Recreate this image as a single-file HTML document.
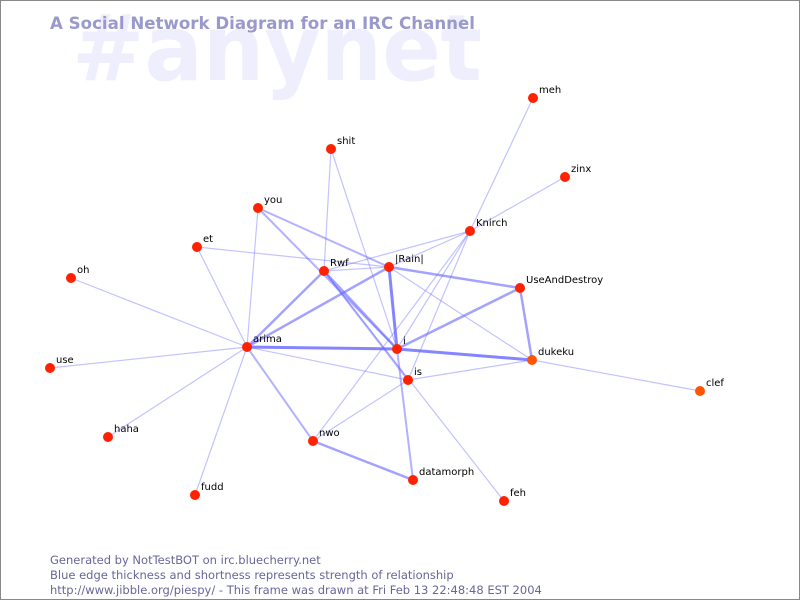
<!DOCTYPE html>
<html><head><style>
html,body{margin:0;padding:0;background:#fff}
svg{display:block}
text{font-family:"DejaVu Sans","Liberation Sans",sans-serif}
</style></head><body>
<svg width="800" height="600" viewBox="0 0 800 600" xmlns="http://www.w3.org/2000/svg">
<rect x="0.5" y="0.5" width="799" height="599" fill="#fff" stroke="#888"/>
<text x="72" y="80" font-size="92" font-weight="bold" fill="#eeeefc" textLength="410" lengthAdjust="spacingAndGlyphs">#anynet</text>
<text x="50" y="29" font-size="17" font-weight="bold" fill="#9999cc" textLength="425" lengthAdjust="spacingAndGlyphs">A Social Network Diagram for an IRC Channel</text>
<g stroke="#6666ff" stroke-linecap="round" fill="none">
<g stroke-opacity="0.4" stroke-width="1.2">
<line x1="533" y1="98" x2="470" y2="231"/>
<line x1="565" y1="177" x2="470" y2="231"/>
<line x1="331" y1="149" x2="324" y2="271"/>
<line x1="331" y1="149" x2="397" y2="349"/>
<line x1="197" y1="247" x2="389" y2="267"/>
<line x1="197" y1="247" x2="247" y2="347"/>
<line x1="258" y1="208" x2="247" y2="347"/>
<line x1="470" y1="231" x2="324" y2="271"/>
<line x1="470" y1="231" x2="389" y2="267"/>
<line x1="470" y1="231" x2="313" y2="441"/>
<line x1="470" y1="231" x2="408" y2="380"/>
<line x1="470" y1="231" x2="397" y2="349"/>
<line x1="324" y1="271" x2="389" y2="267"/>
<line x1="324" y1="271" x2="504" y2="501"/>
<line x1="389" y1="267" x2="532" y2="360"/>
<line x1="532" y1="360" x2="700" y2="391"/>
<line x1="532" y1="360" x2="408" y2="380"/>
<line x1="408" y1="380" x2="313" y2="441"/>
<line x1="71" y1="278" x2="247" y2="347"/>
<line x1="50" y1="368" x2="247" y2="347"/>
<line x1="108" y1="437" x2="247" y2="347"/>
<line x1="195" y1="495" x2="247" y2="347"/>
<line x1="247" y1="347" x2="408" y2="380"/>
</g>
<g stroke-opacity="0.5" stroke-width="2">
<line x1="258" y1="208" x2="389" y2="267"/>
<line x1="258" y1="208" x2="397" y2="349"/>
<line x1="397" y1="349" x2="413" y2="480"/>
<line x1="247" y1="347" x2="313" y2="441"/>
<line x1="324" y1="271" x2="408" y2="380"/>
</g>
<g stroke-opacity="0.6" stroke-width="2.5">
<line x1="247" y1="347" x2="324" y2="271"/>
<line x1="247" y1="347" x2="389" y2="267"/>
<line x1="324" y1="271" x2="397" y2="349"/>
<line x1="389" y1="267" x2="520" y2="288"/>
<line x1="397" y1="349" x2="520" y2="288"/>
<line x1="520" y1="288" x2="532" y2="360"/>
<line x1="313" y1="441" x2="413" y2="480"/>
</g>
<g stroke-opacity="0.8" stroke-width="3">
<line x1="247" y1="347" x2="397" y2="349"/>
<line x1="389" y1="267" x2="397" y2="349"/>
<line x1="397" y1="349" x2="532" y2="360"/>
</g>
</g>
<g fill="#ff2200">
<circle cx="533" cy="98" r="5"/><circle cx="331" cy="149" r="5"/><circle cx="565" cy="177" r="5"/>
<circle cx="258" cy="208" r="5"/><circle cx="470" cy="231" r="5"/><circle cx="197" cy="247" r="5"/>
<circle cx="324" cy="271" r="5"/><circle cx="389" cy="267" r="5"/><circle cx="71" cy="278" r="5"/>
<circle cx="520" cy="288" r="5"/><circle cx="247" cy="347" r="5"/><circle cx="397" cy="349" r="5"/>
<circle cx="532" cy="360" r="5" fill="#ff5500"/><circle cx="50" cy="368" r="5"/><circle cx="408" cy="380" r="5"/>
<circle cx="700" cy="391" r="5" fill="#ff5500"/><circle cx="108" cy="437" r="5"/><circle cx="313" cy="441" r="5"/>
<circle cx="413" cy="480" r="5"/><circle cx="195" cy="495" r="5"/><circle cx="504" cy="501" r="5"/>
</g>
<g font-size="10" fill="#000">
<text x="539" y="93">meh</text><text x="337" y="144">shit</text><text x="571" y="172">zinx</text>
<text x="264" y="203">you</text><text x="476" y="226">Knirch</text><text x="203" y="242">et</text>
<text x="330" y="266">Rwf</text><text x="395" y="262">|Rain|</text><text x="77" y="273">oh</text>
<text x="526" y="283">UseAndDestroy</text><text x="253" y="342">arima</text><text x="403" y="344">i</text>
<text x="538" y="355">dukeku</text><text x="56" y="363">use</text><text x="414" y="375">is</text>
<text x="706" y="386">clef</text><text x="114" y="432">haha</text><text x="319" y="436">nwo</text>
<text x="419" y="475">datamorph</text><text x="201" y="490">fudd</text><text x="510" y="496">feh</text>
</g>
<g font-size="11.5" fill="#666699">
<text x="50" y="564">Generated by NotTestBOT on irc.bluecherry.net</text>
<text x="50" y="579">Blue edge thickness and shortness represents strength of relationship</text>
<text x="50" y="594">http://www.jibble.org/piespy/ - This frame was drawn at Fri Feb 13 22:48:48 EST 2004</text>
</g>
</svg>
</body></html>
